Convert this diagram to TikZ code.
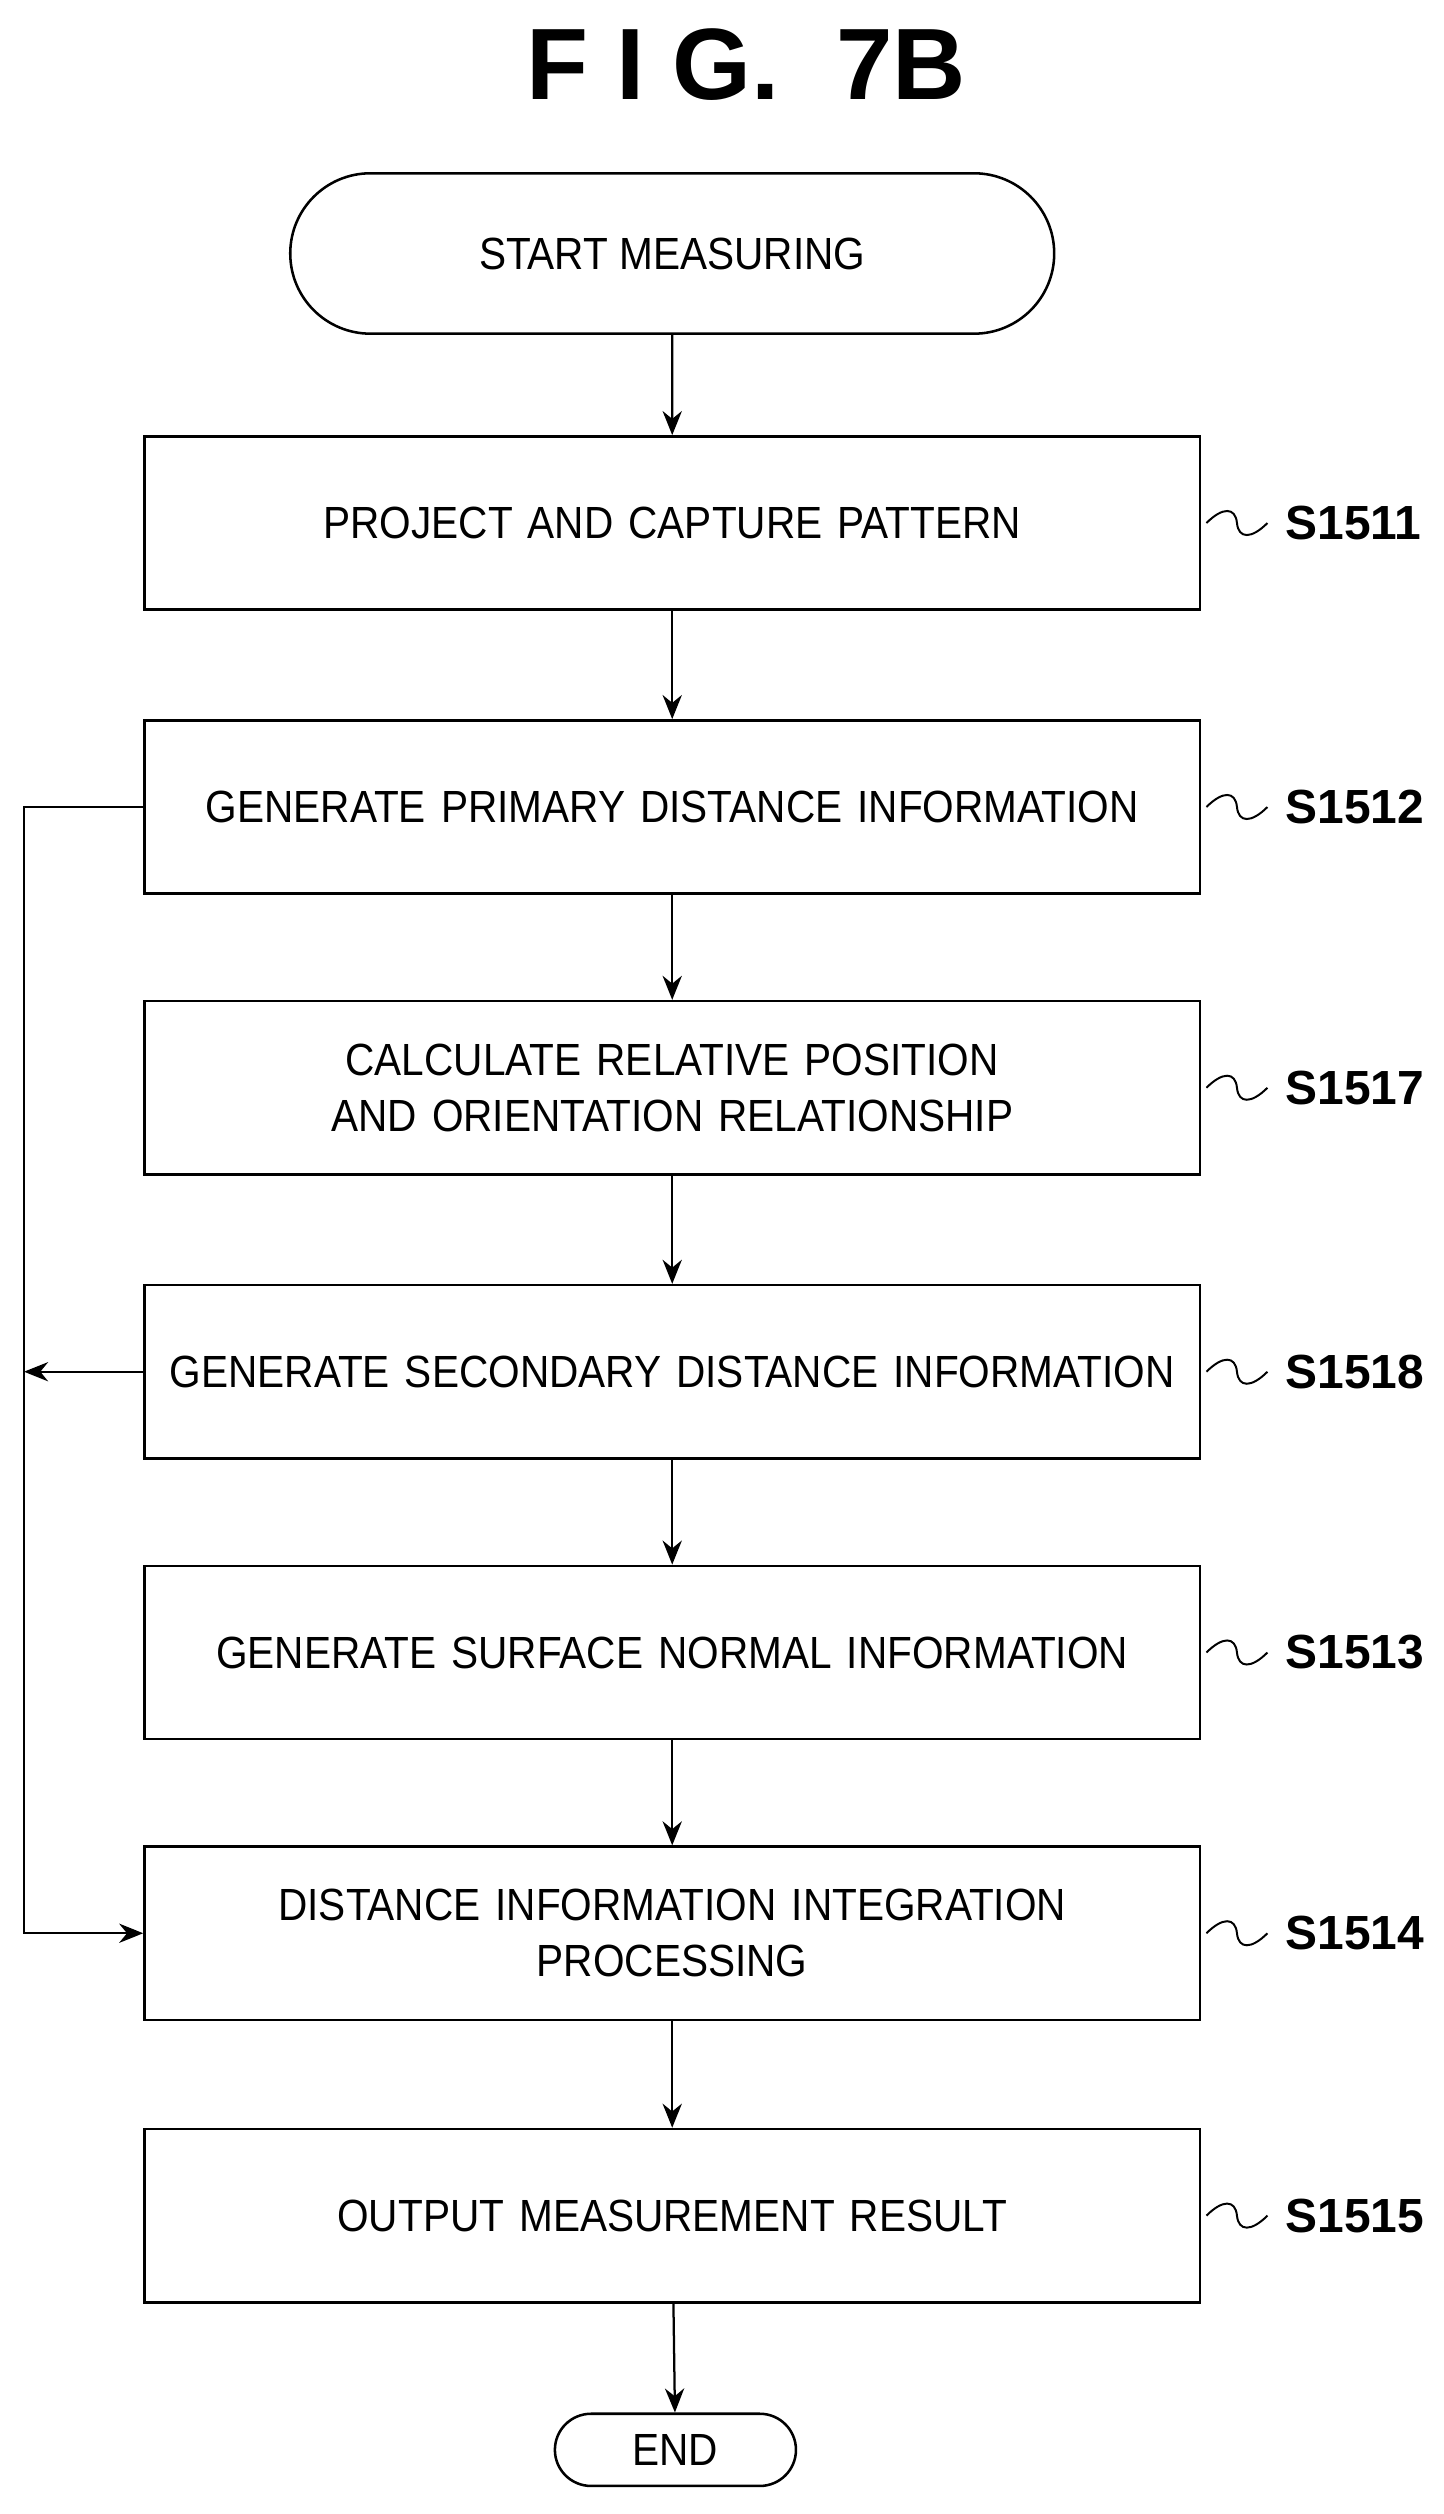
\documentclass[tikz,border=0pt]{standalone}
\usepackage{fontspec}
\setmainfont{Liberation Sans}
\newfontfamily\narrowfont[FakeStretch=0.9]{Liberation Sans}
\usetikzlibrary{positioning,shapes.misc,arrows.meta}

\tikzset{
  every node/.style={font=\narrowfont\fontsize{16}{20}\selectfont, align=center},
  step box/.style={draw, line width=0.9pt, minimum width=13.16cm, minimum height=2.16cm, text width=12.8cm},
  term/.style={draw, line width=0.9pt, rounded rectangle},
  flow/.style={-{Stealth[length=3mm,width=2.4mm]}, line width=0.8pt},
  step label/.style={font=\fontsize{17}{20}\selectfont\bfseries, anchor=west}
}

\begin{document}
\begin{tikzpicture}[x=0.02cm,y=-0.02cm]
  \useasboundingbox (0,0) rectangle (900,1567);

  \node [font=\fontsize{36}{40}\selectfont\bfseries] (title) at (465,40) {F I G.\ \ 7B};

  \node [term, minimum width=9.76cm, minimum height=2cm] (start) at (419,158) {START MEASURING};
  \node [step box] (s1511) at (419,326)  {PROJECT AND CAPTURE PATTERN};
  \node [step box] (s1512) at (419,503)  {GENERATE PRIMARY DISTANCE INFORMATION};
  \node [step box] (s1517) at (419,678)  {CALCULATE RELATIVE POSITION\\AND ORIENTATION RELATIONSHIP};
  \node [step box] (s1518) at (419,855)  {GENERATE SECONDARY DISTANCE INFORMATION};
  \node [step box] (s1513) at (419,1030) {GENERATE SURFACE NORMAL INFORMATION};
  \node [step box] (s1514) at (419,1205) {DISTANCE INFORMATION INTEGRATION\\PROCESSING};
  \node [step box] (s1515) at (419,1381) {OUTPUT MEASUREMENT RESULT};
  \node [term, minimum width=3.24cm, minimum height=0.9cm] (end) at (421,1527) {END};

  % step labels with tilde leaders
  \foreach \s/\y in {1511/326,1512/503,1517/678,1518/855,1513/1030,1514/1205,1515/1381}{
    \draw [line width=0.7pt] (752,\y) .. controls (762,\y-10) and (770,\y-10) .. (771,\y)
      .. controls (772,\y+10) and (780,\y+10) .. (790,\y);
    \node [step label] (l\s) at (795,\y) {S\s};
  }

  % main flow
  \draw [flow] (start) -- (s1511);
  \draw [flow] (s1511) -- (s1512);
  \draw [flow] (s1512) -- (s1517);
  \draw [flow] (s1517) -- (s1518);
  \draw [flow] (s1518) -- (s1513);
  \draw [flow] (s1513) -- (s1514);
  \draw [flow] (s1514) -- (s1515);
  \draw [flow] (s1515) -- (end);

  % bypass line
  \coordinate (loopT) at (15,503);
  \coordinate (loopM) at (15,855);
  \coordinate (loopB) at (15,1205);
  \draw [flow] (s1512.west) -- (loopT) -- (loopB) -- (s1514.west);
  \draw [flow] (s1518.west) -- (loopM);
\end{tikzpicture}
\end{document}
